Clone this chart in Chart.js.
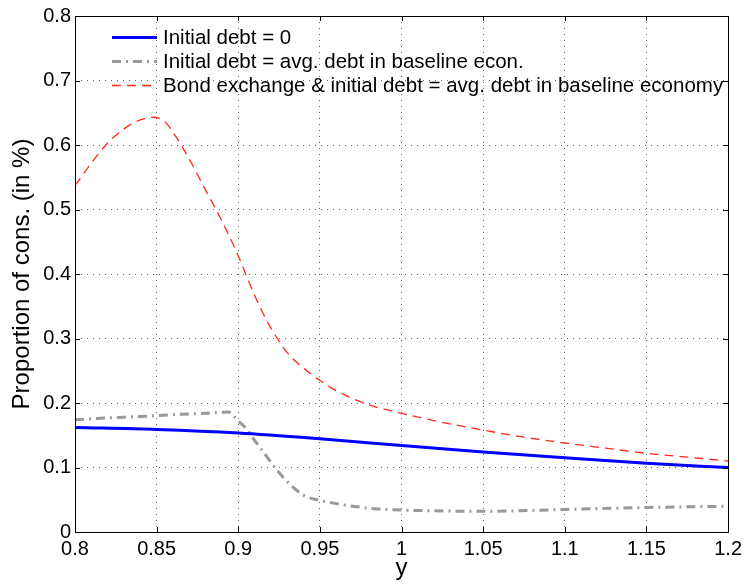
<!DOCTYPE html>
<html>
<head>
<meta charset="utf-8">
<script src="https://cdn.jsdelivr.net/npm/chart.js@4.4.1/dist/chart.umd.min.js"></script>
<style>
html, body { margin: 0; padding: 0; background: #fff; }
#wrap { width: 747px; height: 586px; }
</style>
</head>
<body>
<div id="wrap"><canvas id="chart" width="747" height="586"></canvas></div>
<script>
const xTicks = [0.8, 0.85, 0.9, 0.95, 1, 1.05, 1.1, 1.15, 1.2];
const yTicks = [0, 0.1, 0.2, 0.3, 0.4, 0.5, 0.6, 0.7, 0.8];

const legendLabels = [
    'Initial debt = 0',
    'Initial debt = avg. debt in baseline econ.',
    'Bond exchange & initial debt = avg. debt in baseline economy'
];

// initial debt = 0
const zeroX = [0.8, 0.85, 0.9, 0.95, 1.0, 1.05, 1.1, 1.15, 1.2];
const zeroY = [0.162, 0.159, 0.1535, 0.1445, 0.134, 0.124, 0.115, 0.1065, 0.100];

// initial debt = avg. debt in baseline
const avgX = [0.8, 0.82, 0.84, 0.86, 0.88, 0.894, 0.9, 0.905, 0.91, 0.915, 0.92, 0.925, 0.93, 0.94, 0.95, 0.96, 0.97, 0.98, 0.99, 1.0, 1.05, 1.1, 1.15, 1.2];
const avgY = [0.174, 0.177, 0.179, 0.182, 0.184, 0.186, 0.172, 0.160, 0.142, 0.1255, 0.108, 0.092, 0.078, 0.057, 0.049, 0.044, 0.040, 0.037, 0.035, 0.034, 0.032, 0.035, 0.038, 0.040];

// bond exchange
const bondX = [0.8, 0.81, 0.82, 0.83, 0.84, 0.848, 0.855, 0.86, 0.87, 0.88, 0.89, 0.9, 0.905, 0.91, 0.915, 0.92, 0.925, 0.93, 0.94, 0.95, 0.96, 0.97, 0.98, 0.99, 1.0, 1.025, 1.05, 1.075, 1.1, 1.125, 1.15, 1.175, 1.2];
const bondY = [0.537, 0.572, 0.603, 0.625, 0.639, 0.643, 0.636, 0.620, 0.578, 0.530, 0.482, 0.428, 0.397, 0.367, 0.340, 0.316, 0.296, 0.278, 0.254, 0.235, 0.219, 0.207, 0.197, 0.190, 0.184, 0.170, 0.158, 0.147, 0.138, 0.130, 0.122, 0.116, 0.110];

const FONT = '"Liberation Sans", Arial, Helvetica, sans-serif';
Chart.defaults.font.family = FONT;
Chart.defaults.color = '#000';

function pairs(xs, ys) {
    return xs.map((x, i) => ({ x: x, y: ys[i] }));
}

// box around the axes with inward ticks on all four sides
const framePlugin = {
    id: 'frame',
    afterDatasetsDraw(chart) {
        const { ctx, chartArea: a, scales } = chart;
        const len = 5;
        ctx.save();
        ctx.strokeStyle = '#000';
        ctx.lineWidth = 1;
        ctx.setLineDash([]);
        ctx.beginPath();
        xTicks.forEach(v => {
            const px = Math.round(scales.x.getPixelForValue(v)) + 0.5;
            ctx.moveTo(px, a.bottom); ctx.lineTo(px, a.bottom - len);
            ctx.moveTo(px, a.top); ctx.lineTo(px, a.top + len);
        });
        yTicks.forEach(v => {
            const py = Math.round(scales.y.getPixelForValue(v)) + 0.5;
            ctx.moveTo(a.left, py); ctx.lineTo(a.left + len, py);
            ctx.moveTo(a.right, py); ctx.lineTo(a.right - len, py);
        });
        ctx.stroke();
        ctx.strokeRect(Math.round(a.left) + 0.5, Math.round(a.top) + 0.5,
            Math.round(a.right - a.left), Math.round(a.bottom - a.top));
        ctx.restore();
    }
};

// legend in the top-left corner, no box
const legendPlugin = {
    id: 'innerLegend',
    afterDraw(chart) {
        const ctx = chart.ctx;
        const rows = [37, 61, 85];
        ctx.save();
        chart.data.datasets.forEach((ds, i) => {
            const y = rows[i] + 0.5;
            ctx.strokeStyle = ds.borderColor;
            ctx.lineWidth = ds.borderWidth;
            ctx.setLineDash(ds.borderDash || []);
            ctx.beginPath();
            ctx.moveTo(112, y);
            ctx.lineTo(157, y);
            ctx.stroke();
            ctx.setLineDash([]);
            ctx.fillStyle = '#000';
            ctx.font = '20.5px ' + FONT;
            ctx.textBaseline = 'middle';
            ctx.textAlign = 'left';
            ctx.fillText(ds.label, 163, rows[i] + 1);
        });
        ctx.restore();
    }
};

const gridOpts = { color: 'rgba(0,0,0,0.6)', lineWidth: 1, drawTicks: false };

new Chart(document.getElementById('chart'), {
    type: 'line',
    data: {
        datasets: [
            {
                label: legendLabels[0],
                data: pairs(zeroX, zeroY),
                borderColor: '#0000ff',
                borderWidth: 3,
                pointRadius: 0,
                cubicInterpolationMode: 'monotone'
            },
            {
                label: legendLabels[1],
                data: pairs(avgX, avgY),
                borderColor: '#999999',
                borderWidth: 3,
                borderDash: [9, 5, 2, 5],
                pointRadius: 0,
                cubicInterpolationMode: 'monotone'
            },
            {
                label: legendLabels[2],
                data: pairs(bondX, bondY),
                borderColor: '#ff2a1a',
                borderWidth: 1.3,
                borderDash: [9, 6],
                pointRadius: 0,
                cubicInterpolationMode: 'monotone'
            }
        ]
    },
    options: {
        responsive: false,
        animation: false,
        layout: { padding: { top: 15, right: 18, left: 0, bottom: 0 } },
        plugins: {
            legend: { display: false },
            tooltip: { enabled: false }
        },
        scales: {
            x: {
                type: 'linear',
                min: 0.8,
                max: 1.2,
                afterBuildTicks: s => { s.ticks = xTicks.map(v => ({ value: v })); },
                afterFit: s => { s.height = 54; },
                ticks: { font: { size: 20 }, padding: 5, maxRotation: 0, callback: v => String(v) },
                grid: gridOpts,
                border: { display: false, dash: [1, 5] },
                title: { display: true, text: 'y', font: { size: 24 }, padding: { top: 0, bottom: 3 } }
            },
            y: {
                type: 'linear',
                min: 0,
                max: 0.8,
                afterBuildTicks: s => { s.ticks = yTicks.map(v => ({ value: v })); },
                afterFit: s => { s.width = 75; },
                ticks: { font: { size: 20 }, padding: 4, callback: v => String(v) },
                grid: gridOpts,
                border: { display: false, dash: [1, 5] },
                title: { display: true, text: 'Proportion of cons. (in %)', font: { size: 24 }, padding: { top: 8, bottom: 0 } }
            }
        }
    },
    plugins: [framePlugin, legendPlugin]
});
</script>
</body>
</html>
